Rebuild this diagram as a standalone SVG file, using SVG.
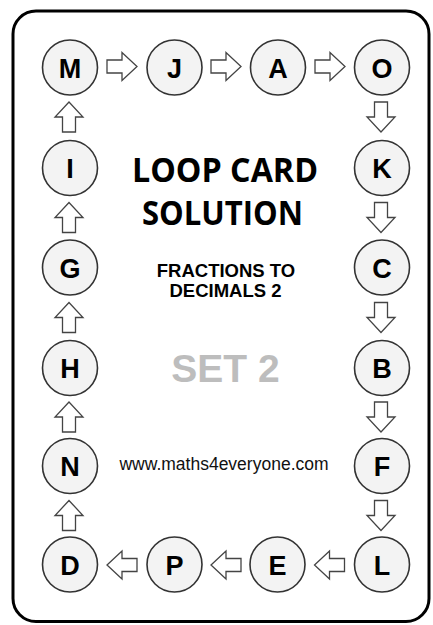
<svg xmlns="http://www.w3.org/2000/svg" width="433" height="625" viewBox="0 0 433 625">
<style>
.node circle{fill:#f3f3f3;stroke:#333;stroke-width:1.6}
.node text{font-family:"Liberation Sans",Arial,sans-serif;font-weight:bold;font-size:27px;text-anchor:middle;fill:#000}
.arr{fill:#fff;stroke:#444;stroke-width:1.3;stroke-linejoin:miter}
.title{font-family:"Open Sans","Noto Sans",sans-serif;font-weight:bold;font-size:34px;text-anchor:middle;fill:#000}
.sub{font-family:"Liberation Sans",Arial,sans-serif;font-weight:bold;font-size:18.5px;text-anchor:middle;fill:#000}
</style>
<defs>
<path id="ar" d="M-15,-6.5 H0 V-14 L15,0 L0,14 V6.5 H-15 Z"/>
</defs>
<rect x="13" y="11" width="416" height="610.5" rx="23" ry="23" fill="#fff" stroke="#000" stroke-width="3"/>
<g id="connectors">
<use href="#ar" class="arr" transform="translate(122,66.5)"/>
<use href="#ar" class="arr" transform="translate(226,66.5)"/>
<use href="#ar" class="arr" transform="translate(330,66.5)"/>
<use href="#ar" class="arr" transform="translate(381,117) rotate(90)"/>
<use href="#ar" class="arr" transform="translate(381,217.5) rotate(90)"/>
<use href="#ar" class="arr" transform="translate(381,317.5) rotate(90)"/>
<use href="#ar" class="arr" transform="translate(381,417) rotate(90)"/>
<use href="#ar" class="arr" transform="translate(381,515.5) rotate(90)"/>
<use href="#ar" class="arr" transform="translate(329.5,565) rotate(180)"/>
<use href="#ar" class="arr" transform="translate(226,565) rotate(180)"/>
<use href="#ar" class="arr" transform="translate(122,565) rotate(180)"/>
<use href="#ar" class="arr" transform="translate(69,515.5) rotate(-90)"/>
<use href="#ar" class="arr" transform="translate(69,417) rotate(-90)"/>
<use href="#ar" class="arr" transform="translate(69,317.5) rotate(-90)"/>
<use href="#ar" class="arr" transform="translate(69,217.5) rotate(-90)"/>
<use href="#ar" class="arr" transform="translate(69,117) rotate(-90)"/>
</g>
<g id="M" class="node"><circle cx="70" cy="67.5" r="27.5"/><text x="70" y="77.5">M</text></g>
<g id="J" class="node"><circle cx="174.5" cy="67.5" r="27.5"/><text x="174.5" y="77.5">J</text></g>
<g id="A" class="node"><circle cx="278" cy="67.5" r="27.5"/><text x="278" y="77.5">A</text></g>
<g id="O" class="node"><circle cx="382" cy="67.5" r="27.5"/><text x="382" y="77.5">O</text></g>
<g id="K" class="node"><circle cx="382" cy="168" r="27.5"/><text x="382" y="178">K</text></g>
<g id="C" class="node"><circle cx="382" cy="267.5" r="27.5"/><text x="382" y="277.5">C</text></g>
<g id="B" class="node"><circle cx="382" cy="368" r="27.5"/><text x="382" y="378">B</text></g>
<g id="F" class="node"><circle cx="382" cy="466" r="27.5"/><text x="382" y="476">F</text></g>
<g id="L" class="node"><circle cx="382" cy="564.5" r="27.5"/><text x="382" y="574.5">L</text></g>
<g id="E" class="node"><circle cx="277.5" cy="564.5" r="27.5"/><text x="277.5" y="574.5">E</text></g>
<g id="P" class="node"><circle cx="174.5" cy="564.5" r="27.5"/><text x="174.5" y="574.5">P</text></g>
<g id="D" class="node"><circle cx="70" cy="564.5" r="27.5"/><text x="70" y="574.5">D</text></g>
<g id="N" class="node"><circle cx="70" cy="466" r="27.5"/><text x="70" y="476">N</text></g>
<g id="H" class="node"><circle cx="70" cy="368" r="27.5"/><text x="70" y="378">H</text></g>
<g id="G" class="node"><circle cx="70" cy="267.5" r="27.5"/><text x="70" y="277.5">G</text></g>
<g id="I" class="node"><circle cx="70" cy="168" r="27.5"/><text x="70" y="178">I</text></g>
<g id="labels">
<text class="title" x="225" y="182" textLength="186" lengthAdjust="spacingAndGlyphs">LOOP CARD</text>
<text class="title" x="222.5" y="225" textLength="161" lengthAdjust="spacingAndGlyphs">SOLUTION</text>
<text class="sub" x="226" y="277">FRACTIONS TO</text>
<text class="sub" x="225.5" y="297">DECIMALS 2</text>
<text x="225.5" y="382" font-family="'Liberation Sans',Arial,sans-serif" font-weight="bold" font-size="39" fill="#bdbdbd" text-anchor="middle">SET 2</text>
<text x="224" y="470" font-family="'Liberation Sans',Arial,sans-serif" font-size="17.5" fill="#111" text-anchor="middle">www.maths4everyone.com</text>
</g>
</svg>
